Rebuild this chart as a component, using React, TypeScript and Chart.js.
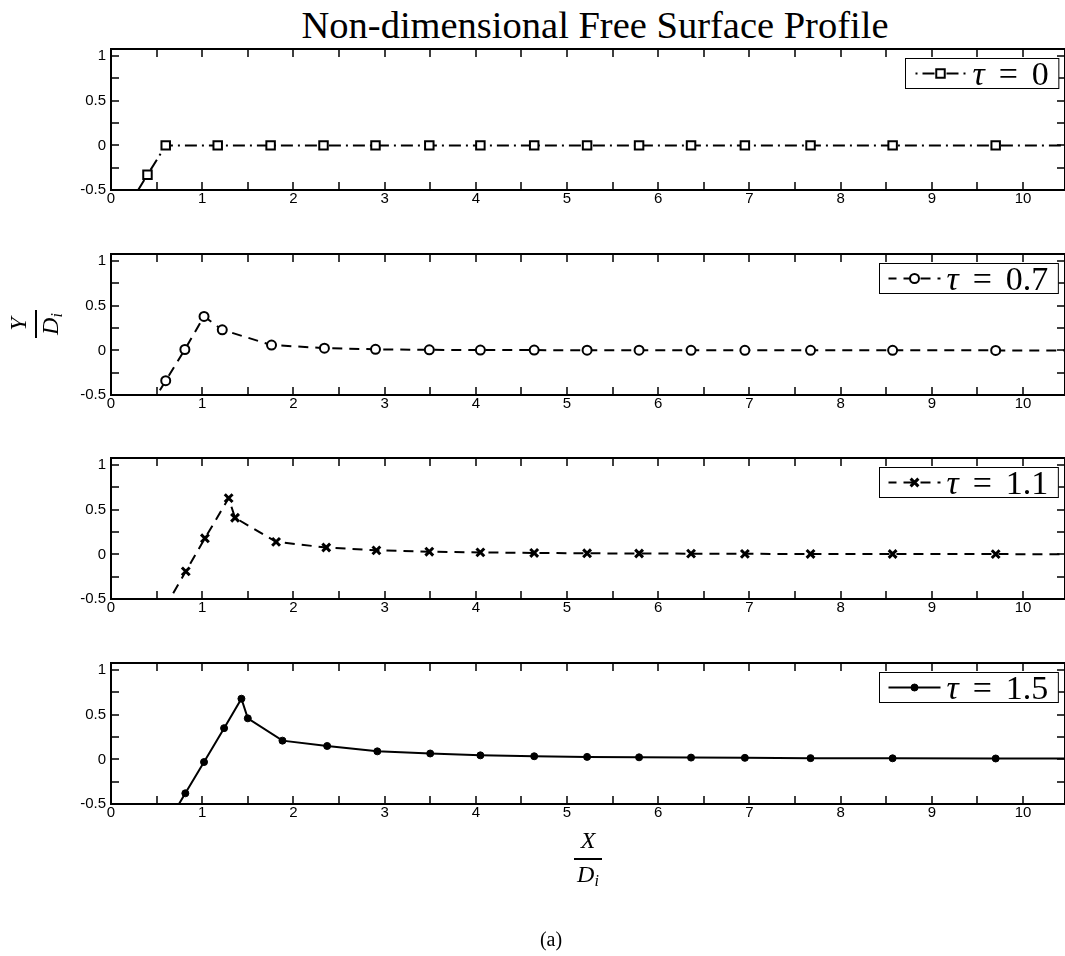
import React, { useEffect, useRef } from 'react';
import { Chart, registerables } from 'chart.js';

Chart.register(...registerables);

// ---------- data ----------
const TAU_LABELS = ['0', '0.7', '1.1', '1.5'];

const X_TAU0 = [0.25, 0.40, 0.60, 1.17, 1.75, 2.33, 2.90, 3.49, 4.05, 4.64, 5.22, 5.79, 6.36, 6.95, 7.67, 8.57, 9.70, 11.0];
const Y_TAU0 = [-0.58, -0.33, 0, 0, 0, 0, 0, 0, 0, 0, 0, 0, 0, 0, 0, 0, 0, 0];

const X_TAU07 = [0.45, 0.60, 0.81, 1.02, 1.22, 1.76, 2.34, 2.90, 3.49, 4.05, 4.64, 5.22, 5.79, 6.36, 6.95, 7.67, 8.57, 9.70, 11.0];
const Y_TAU07 = [-0.59, -0.34, 0.01, 0.38, 0.23, 0.06, 0.025, 0.012, 0.006, 0.004, 0.003, 0.002, 0.002, 0.001, 0.001, 0.001, 0.001, 0.0, 0.0];

const X_TAU11 = [0.60, 0.82, 1.03, 1.29, 1.36, 1.81, 2.36, 2.91, 3.49, 4.05, 4.64, 5.22, 5.79, 6.36, 6.95, 7.67, 8.57, 9.70, 11.0];
const Y_TAU11 = [-0.58, -0.19, 0.18, 0.63, 0.41, 0.14, 0.077, 0.045, 0.03, 0.022, 0.016, 0.012, 0.01, 0.008, 0.006, 0.005, 0.004, 0.003, 0.002];

const X_TAU15 = [0.60, 0.815, 1.02, 1.24, 1.43, 1.50, 1.88, 2.37, 2.92, 3.50, 4.05, 4.64, 5.22, 5.79, 6.36, 6.95, 7.67, 8.57, 9.70, 11.0];
const Y_TAU15 = [-0.75, -0.38, -0.03, 0.35, 0.68, 0.46, 0.21, 0.15, 0.09, 0.066, 0.045, 0.035, 0.028, 0.023, 0.02, 0.017, 0.014, 0.012, 0.01, 0.008];

const X_TICK_LABELS = [0, 1, 2, 3, 4, 5, 6, 7, 8, 9, 10];
const Y_TICK_LABELS = [-0.5, 0, 0.5, 1];
const X_TICK_MARKS = [0, 0.5, 1, 1.5, 2, 2.5, 3, 3.5, 4, 4.5, 5, 5.5, 6, 6.5, 7, 7.5, 8, 8.5, 9, 9.5, 10];
const Y_TICK_MARKS = [-0.5, -0.25, 0, 0.25, 0.5, 0.75, 1];

const X_MIN = 0;
const X_MAX = 10.46;
const Y_MIN = -0.5;
const Y_MAX = 1.08;

// ---------- styles ----------
type Panel = {
  xs: number[];
  ys: number[];
  label: string;
  pointStyle: string;
  radius: number;
  pointBorder: number;
  pointFill: string;
  dash: number[];
  dashOffset: number;
};

const PANELS: Panel[] = [
  { xs: X_TAU0, ys: Y_TAU0, label: TAU_LABELS[0], pointStyle: 'rect', radius: 6, pointBorder: 2, pointFill: '#fff', dash: [12, 5, 2, 5], dashOffset: 16 },
  { xs: X_TAU07, ys: Y_TAU07, label: TAU_LABELS[1], pointStyle: 'circle', radius: 4.5, pointBorder: 2, pointFill: '#fff', dash: [10, 7], dashOffset: 2 },
  { xs: X_TAU11, ys: Y_TAU11, label: TAU_LABELS[2], pointStyle: 'crossRot', radius: 5.5, pointBorder: 3, pointFill: '#000', dash: [10, 7], dashOffset: 2 },
  { xs: X_TAU15, ys: Y_TAU15, label: TAU_LABELS[3], pointStyle: 'circle', radius: 3.5, pointBorder: 1, pointFill: '#000', dash: [], dashOffset: 0 },
];

const PANEL_TOPS = [45, 250, 454, 659];
const PANEL_H = 145;
const PAD_TOP = 10;
const X_AXIS_H = 24;
const Y_AXIS_W = 50;
const PLOT_LEFT = 111;
const CANVAS_W = 1065;
const TICK_LEN = 8;

function drawMarker(ctx: CanvasRenderingContext2D, p: Panel, x: number, y: number) {
  ctx.save();
  ctx.setLineDash([]);
  ctx.lineWidth = p.pointBorder;
  ctx.strokeStyle = '#000';
  ctx.fillStyle = p.pointFill;
  ctx.beginPath();
  const r = p.radius;
  if (p.pointStyle === 'rect') {
    const s = Math.SQRT1_2 * r;
    ctx.rect(x - s, y - s, 2 * s, 2 * s);
    ctx.fill();
    ctx.stroke();
  } else if (p.pointStyle === 'circle') {
    ctx.arc(x, y, r, 0, Math.PI * 2);
    ctx.fill();
    ctx.stroke();
  } else {
    const s = Math.SQRT1_2 * r;
    ctx.moveTo(x - s, y - s);
    ctx.lineTo(x + s, y + s);
    ctx.moveTo(x - s, y + s);
    ctx.lineTo(x + s, y - s);
    ctx.stroke();
  }
  ctx.restore();
}

function makeFramePlugin(p: Panel) {
  return {
    id: 'frame',
    afterDraw(chart: any) {
      const { ctx, chartArea: a, scales } = chart;
      const xs = scales.x;
      const ys = scales.y;
      ctx.save();
      ctx.strokeStyle = '#000';
      ctx.setLineDash([]);
      ctx.lineWidth = 1.5;
      ctx.beginPath();
      for (const v of X_TICK_MARKS) {
        const px = Math.round(xs.getPixelForValue(v));
        ctx.moveTo(px, a.bottom);
        ctx.lineTo(px, a.bottom - TICK_LEN);
        ctx.moveTo(px, a.top);
        ctx.lineTo(px, a.top + TICK_LEN);
      }
      for (const v of Y_TICK_MARKS) {
        const py = Math.round(ys.getPixelForValue(v));
        ctx.moveTo(a.left, py);
        ctx.lineTo(a.left + TICK_LEN, py);
        ctx.moveTo(a.right, py);
        ctx.lineTo(a.right - TICK_LEN, py);
      }
      ctx.stroke();
      ctx.lineWidth = 2;
      ctx.strokeRect(a.left, a.top, a.right - a.left, a.bottom - a.top);

      // legend
      const fontSize = 34;
      const italic = `italic ${fontSize}px "Liberation Serif", "Times New Roman", serif`;
      const roman = `${fontSize}px "Liberation Serif", "Times New Roman", serif`;
      ctx.font = italic;
      const wTau = ctx.measureText('τ').width;
      ctx.font = roman;
      const wEq = ctx.measureText('=').width;
      const wVal = ctx.measureText(p.label).width;
      const padL = 9, lineLen = 52, gap1 = 6, gapEq = 14, padR = 10;
      const boxW = padL + lineLen + gap1 + wTau + gapEq + wEq + gapEq + wVal + padR;
      const boxH = 30;
      const bx = Math.round(a.right - 7 - boxW) + 0.5;
      const by = Math.round(a.top + 9) + 0.5;
      ctx.fillStyle = '#fff';
      ctx.fillRect(bx, by, boxW, boxH);
      ctx.lineWidth = 1;
      ctx.strokeRect(bx, by, boxW, boxH);
      const ly = by + boxH / 2;
      const lx0 = bx + padL;
      ctx.lineWidth = 2;
      ctx.setLineDash(p.dash);
      ctx.lineDashOffset = p.dashOffset;
      ctx.beginPath();
      ctx.moveTo(lx0, ly);
      ctx.lineTo(lx0 + lineLen, ly);
      ctx.stroke();
      ctx.setLineDash([]);
      drawMarker(ctx, p, lx0 + lineLen / 2, ly);
      ctx.fillStyle = '#000';
      ctx.textBaseline = 'alphabetic';
      ctx.textAlign = 'left';
      const base = by + 26;
      let tx = lx0 + lineLen + gap1;
      ctx.font = italic;
      ctx.fillText('τ', tx, base);
      tx += wTau + gapEq;
      ctx.font = roman;
      ctx.fillText('=', tx, base);
      tx += wEq + gapEq;
      ctx.fillText(p.label, tx, base);
      ctx.restore();
    },
  };
}

function makeConfig(p: Panel): any {
  const tickFont = { family: '"Liberation Sans", Arial, Helvetica, sans-serif', size: 15 };
  return {
    type: 'line',
    data: {
      datasets: [
        {
          data: p.xs.map((x, j) => ({ x, y: p.ys[j] })),
          borderColor: '#000',
          borderWidth: 2,
          borderDash: p.dash,
          borderDashOffset: p.dashOffset,
          pointStyle: p.pointStyle,
          pointRadius: p.radius,
          pointBorderWidth: p.pointBorder,
          pointBackgroundColor: p.pointFill,
          pointBorderColor: '#000',
          fill: false,
          tension: 0,
          clip: 0,
        },
      ],
    },
    options: {
      animation: false,
      responsive: false,
      maintainAspectRatio: false,
      devicePixelRatio: 1,
      events: [],
      layout: { autoPadding: false, padding: { left: PLOT_LEFT - Y_AXIS_W, top: PAD_TOP, right: 0, bottom: 0 } },
      plugins: { legend: { display: false }, title: { display: false }, tooltip: { enabled: false } },
      scales: {
        x: {
          type: 'linear',
          min: X_MIN,
          max: X_MAX,
          offset: false,
          afterBuildTicks: (s: any) => {
            s.ticks = X_TICK_LABELS.map((v) => ({ value: v }));
          },
          afterFit: (s: any) => {
            s.height = X_AXIS_H;
          },
          grid: { display: false, drawTicks: false },
          border: { display: false },
          ticks: {
            color: '#000',
            font: tickFont,
            padding: 0,
            maxRotation: 0,
            autoSkip: false,
            callback: (v: any) => String(v),
          },
        },
        y: {
          type: 'linear',
          min: Y_MIN,
          max: Y_MAX,
          afterBuildTicks: (s: any) => {
            s.ticks = Y_TICK_LABELS.map((v) => ({ value: v }));
          },
          afterFit: (s: any) => {
            s.width = Y_AXIS_W;
          },
          grid: { display: false, drawTicks: false },
          border: { display: false },
          ticks: {
            color: '#000',
            font: tickFont,
            padding: 5,
            autoSkip: false,
            callback: (v: any) => String(v),
          },
        },
      },
    },
    plugins: [makeFramePlugin(p)],
  };
}

function PanelChart({ idx }: { idx: number }) {
  const ref = useRef<HTMLCanvasElement>(null);
  const h = PAD_TOP + PANEL_H + X_AXIS_H;
  useEffect(() => {
    const chart = new Chart(ref.current as HTMLCanvasElement, makeConfig(PANELS[idx]));
    return () => chart.destroy();
  }, [idx]);
  return (
    <canvas
      ref={ref}
      width={CANVAS_W}
      height={h}
      style={{ position: 'absolute', left: 0, top: PANEL_TOPS[idx] - PAD_TOP, width: CANVAS_W, height: h, display: 'block' }}
    />
  );
}

const serif = '"Liberation Serif", "Times New Roman", serif';

export default function App() {
  const mathI: React.CSSProperties = { fontFamily: serif, fontStyle: 'italic', fontSize: 24, lineHeight: '24px', color: '#000', whiteSpace: 'nowrap' };
  const sub: React.CSSProperties = { fontSize: 16, verticalAlign: '-4px', lineHeight: 0 };
  return (
    <div style={{ position: 'absolute', left: 0, top: 0, width: 1065, height: 956, overflow: 'hidden', background: '#fff' }}>
      <div
        style={{ position: 'absolute', left: 595, top: 6, transform: 'translateX(-50%)', fontFamily: serif, fontSize: 38.5, lineHeight: '38px', color: '#000', whiteSpace: 'nowrap' }}
      >
        Non-dimensional Free Surface Profile
      </div>
      {PANELS.map((_, i) => (
        <PanelChart key={i} idx={i} />
      ))}
      {/* y label */}
      <div style={{ position: 'absolute', left: 13.5, top: 296, width: 40, height: 56, transform: 'rotate(-90deg)' }}>
        <div style={{ ...mathI, position: 'absolute', left: 0, width: 40, top: 0, textAlign: 'center' }}>Y</div>
        <div style={{ position: 'absolute', left: 6, width: 28, top: 29, height: 2, background: '#000' }} />
        <div style={{ ...mathI, position: 'absolute', left: 0, width: 40, top: 32, textAlign: 'center' }}>
          D<sub style={sub}>i</sub>
        </div>
      </div>
      {/* x label */}
      <div style={{ position: 'absolute', left: 568, top: 828, width: 40, height: 56 }}>
        <div style={{ ...mathI, position: 'absolute', left: 0, width: 40, top: 0, textAlign: 'center' }}>X</div>
        <div style={{ position: 'absolute', left: 6, width: 28, top: 30, height: 2, background: '#000' }} />
        <div style={{ ...mathI, position: 'absolute', left: 0, width: 40, top: 34, textAlign: 'center' }}>
          D<sub style={sub}>i</sub>
        </div>
      </div>
      <div style={{ position: 'absolute', left: 551, top: 929, transform: 'translateX(-50%)', fontFamily: serif, fontSize: 20, lineHeight: '20px', color: '#000' }}>
        (a)
      </div>
    </div>
  );
}
